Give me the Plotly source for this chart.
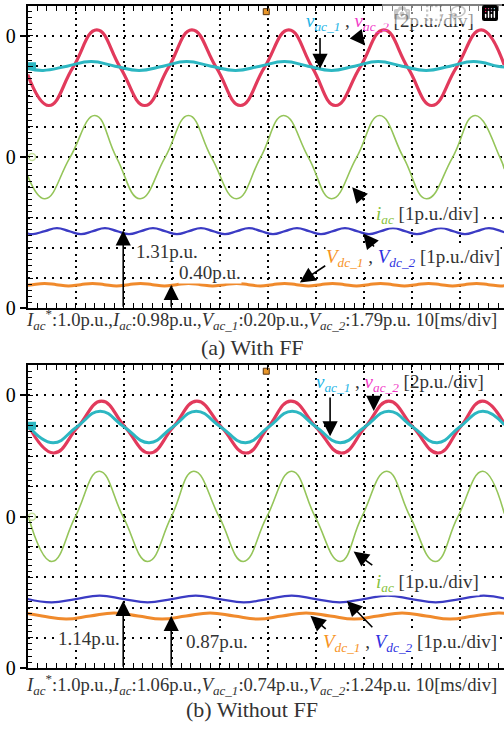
import plotly.graph_objects as go

FONT = "Liberation Serif"

# ---------------- data (time in ms, value in screen divisions) ----------------
# Panel (a) With FF
t_vac2_a = [0, 4.4, 9.4, 14.4, 19.3, 24.4, 29.3, 34.2, 39.3, 44.3, 49.3, 54.4, 59.3, 64.1, 69.2, 74.2, 79.2, 84.2, 89.3, 94.5, 99.3]
v_vac2_a = [7.72, 6.70, 7.95, 9.20, 7.95, 6.70, 7.95, 9.20, 7.95, 6.70, 7.95, 9.20, 7.95, 6.70, 7.95, 9.20, 7.95, 6.70, 7.95, 9.20, 8.03]

t_vac1_a = [0, 3.2, 8.2, 13.2, 18.2, 23.2, 28.2, 33.1, 38.2, 43.3, 48.4, 53.5, 58.4, 63.3, 68.1, 73.0, 78.0, 83.0, 88.0, 92.9, 97.9, 99.3]
v_vac1_a = [7.93, 7.86, 8.00, 8.15, 8.00, 7.86, 8.00, 8.15, 8.00, 7.86, 8.00, 8.15, 8.00, 7.86, 8.00, 8.15, 8.00, 7.86, 8.00, 8.15, 8.00, 7.97]

t_iac_a = [0, 3.6, 8.8, 14.0, 18.5, 23.4, 28.6, 33.5, 38.3, 43.5, 48.5, 53.3, 58.5, 63.3, 68.5, 73.3, 78.3, 83.1, 88.5, 93.2, 98.4, 99.3]
v_iac_a = [4.38, 3.62, 4.98, 6.37, 4.98, 3.62, 4.98, 6.37, 4.98, 3.62, 4.98, 6.37, 4.98, 3.62, 4.98, 6.37, 4.98, 3.62, 4.98, 6.37, 4.98, 4.60]

t_vdc2_a = [0, 1.1, 3.6, 6.1, 8.6, 11.1, 13.6, 16.1, 18.6, 21.1, 23.6, 26.1, 28.6, 31.1, 33.6, 36.1, 38.6, 41.1, 43.6, 46.1, 48.6,
            51.1, 53.6, 56.1, 58.6, 61.1, 63.6, 66.1, 68.6, 71.1, 73.6, 76.1, 78.6, 81.1, 83.6, 86.1, 88.6, 91.1, 93.6, 96.1, 98.6, 99.3]
v_vdc2_a = [2.47, 2.45, 2.55, 2.65, 2.55, 2.45, 2.55, 2.65, 2.55, 2.45, 2.55, 2.65, 2.55, 2.45, 2.55, 2.65, 2.55, 2.45, 2.55, 2.65, 2.55,
            2.45, 2.55, 2.65, 2.55, 2.45, 2.55, 2.65, 2.55, 2.45, 2.55, 2.65, 2.55, 2.45, 2.55, 2.65, 2.55, 2.45, 2.55, 2.65, 2.55, 2.51]

t_vdc1_a = [0, 1.0, 3.5, 6.0, 8.5, 11.0, 13.5, 16.0, 18.5, 21.0, 23.5, 26.0, 28.5, 31.0, 33.5, 36.0, 38.5, 41.0, 43.5, 46.0, 48.5,
            51.0, 53.5, 56.0, 58.5, 61.0, 63.5, 66.0, 68.5, 71.0, 73.5, 76.0, 78.5, 81.0, 83.5, 86.0, 88.5, 91.0, 93.5, 96.0, 98.5, 99.3]
v_vdc1_a = [0.76, 0.78, 0.82, 0.78, 0.74, 0.78, 0.82, 0.78, 0.74, 0.78, 0.82, 0.78, 0.74, 0.78, 0.82, 0.78, 0.74, 0.78, 0.82, 0.78, 0.74,
            0.78, 0.82, 0.78, 0.74, 0.78, 0.82, 0.78, 0.74, 0.78, 0.82, 0.78, 0.74, 0.78, 0.82, 0.78, 0.74, 0.78, 0.82, 0.78, 0.74, 0.75]

# Panel (b) Without FF
t_vac2_b = [0, 5.4, 10.4, 15.4, 20.3, 25.4, 30.3, 35.2, 40.4, 45.5, 50.1, 54.8, 60.1, 65.4, 70.3, 75.2, 80.3, 85.5, 90.1, 94.7, 99.3]
v_vac2_b = [8.06, 7.10, 7.95, 8.81, 7.95, 7.10, 7.95, 8.81, 7.95, 7.10, 7.95, 8.81, 7.95, 7.10, 7.95, 8.81, 7.95, 7.10, 7.95, 8.81, 8.06]

t_vac1_b = [0, 5.3, 10.2, 15.1, 20.1, 25.3, 30.2, 35.1, 40.2, 45.4, 50.2, 55.1, 60.1, 65.1, 70.2, 75.2, 80.2, 85.3, 90.0, 94.8, 99.3]
v_vac1_b = [8.02, 7.44, 7.96, 8.48, 7.96, 7.44, 7.96, 8.48, 7.96, 7.44, 7.96, 8.48, 7.96, 7.44, 7.96, 8.48, 7.96, 7.44, 7.96, 8.48, 8.03]

t_iac_b = [0, 5.0, 9.9, 14.9, 19.9, 25.0, 29.9, 34.6, 39.9, 44.9, 49.8, 55.0, 59.9, 65.1, 69.6, 74.8, 79.7, 84.9, 89.6, 94.8, 99.3]
v_iac_b = [5.07, 3.52, 4.99, 6.50, 4.99, 3.52, 4.99, 6.50, 4.99, 3.52, 4.99, 6.50, 4.99, 3.52, 4.99, 6.50, 4.99, 3.52, 4.99, 6.50, 5.10]

t_vdc2_b = [0, 5, 10, 15, 20, 25, 30, 35, 40, 45, 50, 55, 60, 65, 70, 75, 80, 85, 90, 95, 99.3]
v_vdc2_b = [2.28, 2.17, 2.28, 2.39, 2.28, 2.17, 2.28, 2.39, 2.28, 2.17, 2.28, 2.39, 2.28, 2.17, 2.28, 2.39, 2.28, 2.17, 2.28, 2.39, 2.30]

t_vdc1_b = [0, 3, 8, 13, 18, 23, 28, 33, 38, 43, 48, 53, 58, 63, 68, 73, 78, 83, 88, 93, 98, 99.3]
v_vdc1_b = [1.80, 1.72, 1.62, 1.72, 1.82, 1.72, 1.62, 1.72, 1.82, 1.72, 1.62, 1.72, 1.82, 1.72, 1.62, 1.72, 1.82, 1.72, 1.62, 1.72, 1.82, 1.81]

# channel / trigger markers [t, div]
ch_vac_marker = [0.9, 8.0]
ch_iac_marker = [0.9, 5.0]
trigger_marker = [49.7, 9.8]

zero_ticks = [0, 5, 9]
zero_text = ["0", "0", "0"]

caption_a = "(a) With FF"
caption_b = "(b) Without FF"
info_a = ("<i>I</i><sub><i>ac</i></sub><sup>*</sup>:1.0p.u.,<i>I</i><sub><i>ac</i></sub>:0.98p.u.,"
          "<i>V</i><sub><i>ac_1</i></sub>:0.20p.u.,<i>V</i><sub><i>ac_2</i></sub>:1.79p.u. 10[ms/div]")
info_b = ("<i>I</i><sub><i>ac</i></sub><sup>*</sup>:1.0p.u.,<i>I</i><sub><i>ac</i></sub>:1.06p.u.,"
          "<i>V</i><sub><i>ac_1</i></sub>:0.74p.u.,<i>V</i><sub><i>ac_2</i></sub>:1.24p.u. 10[ms/div]")

C_RED = "#E23A5C"
C_CYAN = "#2DB7C2"
C_GREEN = "#95C55A"
C_BLUE = "#3B3BC4"
C_ORANGE = "#F08A2C"
T_CYAN = "#1EB4E6"
T_MAG = "#F23CC8"
T_GREEN = "#86C23C"
T_ORANGE = "#F7931E"
T_BLUE = "#2E31E0"
T_GRAY = "#333333"

W, H = 504, 734
fig = go.Figure()


def add_line(t, v, color, width, xa, ya):
    fig.add_trace(go.Scatter(x=t, y=v, mode="lines", xaxis=xa, yaxis=ya,
                             line=dict(color=color, width=width, shape="spline", smoothing=1.3),
                             showlegend=False, hoverinfo="skip"))


for xa, ya, data in [
    ("x", "y", [(t_iac_a, v_iac_a, C_GREEN, 1.6), (t_vdc2_a, v_vdc2_a, C_BLUE, 2.2), (t_vdc1_a, v_vdc1_a, C_ORANGE, 3),
                (t_vac2_a, v_vac2_a, C_RED, 3.2), (t_vac1_a, v_vac1_a, C_CYAN, 3)]),
    ("x2", "y2", [(t_iac_b, v_iac_b, C_GREEN, 1.6), (t_vdc2_b, v_vdc2_b, C_BLUE, 2.2), (t_vdc1_b, v_vdc1_b, C_ORANGE, 3),
                  (t_vac2_b, v_vac2_b, C_RED, 3.2), (t_vac1_b, v_vac1_b, C_CYAN, 3)]),
]:
    for t, v, c, w in data:
        add_line(t, v, c, w, xa, ya)
    fig.add_trace(go.Scatter(x=[ch_vac_marker[0]], y=[ch_vac_marker[1]], mode="markers", xaxis=xa, yaxis=ya,
                             marker=dict(symbol="square", size=8, color=C_CYAN), showlegend=False, hoverinfo="skip"))
    fig.add_trace(go.Scatter(x=[ch_iac_marker[0]], y=[ch_iac_marker[1]], mode="markers", xaxis=xa, yaxis=ya,
                             marker=dict(symbol="circle-open", size=7, color="#C8E0A0", line=dict(width=1.5)),
                             showlegend=False, hoverinfo="skip"))
    fig.add_trace(go.Scatter(x=[trigger_marker[0]], y=[trigger_marker[1]], mode="markers", xaxis=xa, yaxis=ya,
                             marker=dict(symbol="square", size=6, color="#E8962A", line=dict(color="#553311", width=1)),
                             showlegend=False, hoverinfo="skip"))

# invisible traces for the overlaying "0" label axes
fig.add_trace(go.Scatter(x=[], y=[], xaxis="x", yaxis="y3", showlegend=False, hoverinfo="skip"))
fig.add_trace(go.Scatter(x=[], y=[], xaxis="x2", yaxis="y4", showlegend=False, hoverinfo="skip"))

x_dom = [27.7 / W, 1.0]
ya_dom = [(H - 313.0) / H, (H - 5.7) / H]
yb_dom = [(H - 678.3) / H, (H - 370.7) / H]

common = dict(showline=True, linecolor="black", linewidth=2, ticks="inside", ticklen=5, tickwidth=1.3,
              tickcolor="black", showticklabels=False, showgrid=True, gridcolor="black", gridwidth=2,
              zeroline=False, fixedrange=True)


def xax(anchor):
    return dict(**common, domain=x_dom, range=[0, 99.23], dtick=10, tick0=0, mirror="allticks",
                griddash="2px,4.2px", anchor=anchor,
                minor=dict(dtick=2, ticks="inside", ticklen=4, tickwidth=1.2, tickcolor="black", showgrid=False))


def yax(dom, anchor):
    return dict(**common, domain=dom, range=[0, 10], dtick=1, tick0=0, mirror=False, griddash="2px,6px",
                anchor=anchor,
                minor=dict(dtick=0.2, ticks="inside", ticklen=4, tickwidth=1.2, tickcolor="black", showgrid=False))


def zax(over, anchor):
    return dict(overlaying=over, anchor=anchor, side="left", range=[0, 10], tickvals=zero_ticks, ticktext=zero_text,
                ticks="outside", ticklen=7, tickwidth=2, tickcolor="black", showgrid=False, zeroline=False,
                showline=False, tickfont=dict(family=FONT, size=20, color="black"), fixedrange=True)


def span(txt, color):
    return f'<span style="color:{color}">{txt}</span>'


vac_label = (span("<i>v</i><sub><i>ac_1</i></sub>", T_CYAN) + span(" , ", T_GRAY) +
             span("<i>v</i><sub><i>ac_2</i></sub>", T_MAG) + span(" [2p.u./div]", T_GRAY))
iac_label = span("<i>i</i><sub><i>ac</i></sub>", T_GREEN) + span(" [1p.u./div]", T_GRAY)
vdc_label = (span("<i>V</i><sub><i>dc_1</i></sub>", T_ORANGE) + span(" , ", T_GRAY) +
             span("<i>V</i><sub><i>dc_2</i></sub>", T_BLUE) + span(" [1p.u./div]", T_GRAY))

ann = []


def text(xr, yr, x, y, s, xanchor="left", bg=None, size=19):
    d = dict(xref=xr, yref=yr, x=x, y=y, text=s, showarrow=False, xanchor=xanchor, yanchor="middle",
             font=dict(family=FONT, size=size, color=T_GRAY), borderpad=0)
    if bg:
        d["bgcolor"] = bg
    ann.append(d)


def arrow(xr, yr, x, y, ax, ay):
    ann.append(dict(xref=xr, yref=yr, axref=xr, ayref=yr, x=x, y=y, ax=ax, ay=ay, text="", showarrow=True,
                    arrowhead=2, arrowsize=1.9, arrowwidth=1.6, arrowcolor="black", standoff=0, startstandoff=0))


# panel (a)
text("x", "y", 57.8, 9.47, vac_label)
text("x", "y", 72.4, 3.09, iac_label, bg="white")
text("x", "y", 62.0, 1.66, vdc_label, bg="white")
text("x", "y", 22.4, 1.89, "1.31p.u.", bg="white")
text("x", "y", 31.3, 1.18, "0.40p.u.", bg="white")
arrow("x", "y", 60.9, 7.91, 60.9, 8.98)
arrow("x", "y", 70.3, 8.68, 68.8, 8.98)
arrow("x", "y", 67.6, 4.0, 70.3, 3.51)
arrow("x", "y", 69.9, 2.47, 72.4, 1.99)
arrow("x", "y", 56.7, 0.85, 62.3, 1.44)
arrow("x", "y", 19.9, 2.58, 19.9, 0.0)
arrow("x", "y", 29.9, 0.78, 29.9, 0.0)

# panel (b)
text("x2", "y2", 59.9, 9.42, vac_label)
text("x2", "y2", 72.4, 2.81, iac_label, bg="white")
text("x2", "y2", 61.3, 0.82, vdc_label, bg="white")
text("x2", "y2", 6.1, 0.97, "1.14p.u.", bg="white")
text("x2", "y2", 32.8, 0.87, "0.87p.u.", bg="white")
arrow("x2", "y2", 63.0, 7.65, 63.0, 8.98)
arrow("x2", "y2", 72.1, 8.49, 72.1, 8.98)
arrow("x2", "y2", 67.9, 3.85, 72.1, 3.36)
arrow("x2", "y2", 58.9, 1.73, 62.4, 1.25)
arrow("x2", "y2", 66.5, 2.22, 72.1, 1.30)
arrow("x2", "y2", 19.9, 2.22, 19.9, 0.0)
arrow("x2", "y2", 29.9, 1.73, 29.9, 0.0)

# captions
text("paper", "paper", 25 / W, (H - 324) / H, info_a, size=18.6)
text("paper", "paper", 0.5, (H - 353) / H, caption_a, xanchor="center", size=22)
text("paper", "paper", 25 / W, (H - 695) / H, info_b, size=18.6)
text("paper", "paper", 0.5, (H - 720) / H, caption_b, xanchor="center", size=22)

fig.update_layout(
    width=W, height=H, margin=dict(l=0, r=0, t=0, b=0),
    paper_bgcolor="white", plot_bgcolor="white", showlegend=False,
    font=dict(family=FONT, size=19, color=T_GRAY),
    xaxis=xax("y"), yaxis=yax(ya_dom, "x"),
    xaxis2=xax("y2"), yaxis2=yax(yb_dom, "x2"),
    yaxis3=zax("y", "x"), yaxis4=zax("y2", "x2"),
    annotations=ann,
)

fig.write_html("out.html",
               post_script="document.body.style.margin='0';document.body.style.padding='0';"
                           "document.body.style.overflow='hidden';")
